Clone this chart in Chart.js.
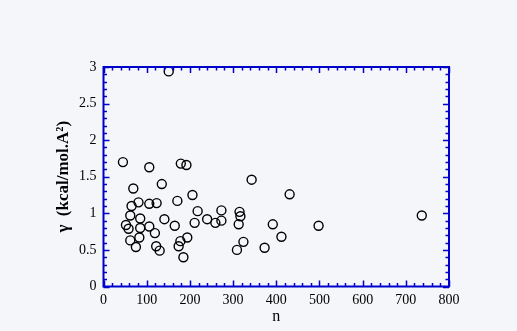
<!DOCTYPE html>
<html>
<head>
<meta charset="utf-8">
<script src="https://cdn.jsdelivr.net/npm/chart.js@4.4.1/dist/chart.umd.min.js"></script>
<style>
  html, body { margin: 0; padding: 0; background: #f5f6f9; }
  #wrap { width: 517px; height: 331px; }
</style>
</head>
<body>
<div id="wrap"><canvas id="gammaChart" width="517" height="331"></canvas></div>
<script>
// n (chain length) vs gamma (kcal/mol.A^2)
var nValues = [45, 106, 179, 192, 343, 69, 135, 206, 65, 81,
               106, 123, 171, 218, 273, 315, 317, 62, 85, 141,
               240, 273, 259, 211, 313, 392, 52, 58, 85, 106,
               165, 119, 62, 83, 75, 122, 130, 178, 174, 194,
               185, 309, 324, 373, 151, 431, 412, 498, 737];
var gammaValues = [1.70, 1.63, 1.68, 1.66, 1.46, 1.34, 1.40, 1.25, 1.10, 1.15,
                   1.13, 1.14, 1.17, 1.03, 1.04, 1.02, 0.96, 0.97, 0.93, 0.92,
                   0.92, 0.90, 0.87, 0.87, 0.85, 0.85, 0.84, 0.79, 0.80, 0.82,
                   0.83, 0.73, 0.63, 0.67, 0.54, 0.55, 0.49, 0.62, 0.55, 0.67,
                   0.40, 0.50, 0.61, 0.53, 2.94, 1.26, 0.68, 0.83, 0.97];

var xMin = 0, xMax = 800, xMajor = 100, xMinor = 20;
var yMin = 0, yMax = 3, yMajor = 0.5, yMinor = 0.1;

var axisBlue = '#0000cc';

var points = [];
for (var i = 0; i < nValues.length; i++) {
    points.push({x: nValues[i], y: gammaValues[i]});
}

// box frame + inward ticks on all four sides
var frameTicks = {
    id: 'frameTicks',
    afterDraw: function (chart) {
        var ctx = chart.ctx;
        var a = chart.chartArea;
        var xs = chart.scales.x, ys = chart.scales.y;
        ctx.save();
        ctx.strokeStyle = axisBlue;
        ctx.lineWidth = 1.5;
        var v, p, len;
        for (v = xMin; v <= xMax + 0.001; v += xMinor) {
            p = Math.round(xs.getPixelForValue(v)) + 0.5;
            len = (Math.abs(v % xMajor) < 0.001) ? 6 : 3.5;
            ctx.beginPath();
            ctx.moveTo(p, a.bottom); ctx.lineTo(p, a.bottom - len);
            ctx.moveTo(p, a.top); ctx.lineTo(p, a.top + len);
            ctx.stroke();
        }
        for (var k = 0; k <= Math.round((yMax - yMin) / yMinor); k++) {
            v = yMin + k * yMinor;
            p = Math.round(ys.getPixelForValue(v)) + 0.5;
            len = (k % 5 === 0) ? 6 : 3.5;
            ctx.beginPath();
            ctx.moveTo(a.left, p); ctx.lineTo(a.left + len, p);
            ctx.moveTo(a.right, p); ctx.lineTo(a.right - len, p);
            ctx.stroke();
        }
        ctx.lineWidth = 2;
        ctx.strokeRect(a.left, a.top, a.right - a.left, a.bottom - a.top);
        ctx.restore();
    }
};

var ctx = document.getElementById('gammaChart');
var gammaChart = new Chart(ctx, {
    type: 'scatter',
    data: {
        datasets: [{
            data: points,
            pointRadius: 4.5,
            pointBorderWidth: 1.4,
            pointBorderColor: '#000000',
            pointBackgroundColor: 'rgba(0,0,0,0)',
            pointHoverRadius: 4.5
        }]
    },
    options: {
        responsive: false,
        animation: false,
        layout: {
            padding: {top: 67, right: 68, left: 0, bottom: 0}
        },
        plugins: {
            legend: {display: false},
            tooltip: {enabled: false}
        },
        scales: {
            x: {
                type: 'linear',
                min: xMin,
                max: xMax,
                grid: {display: false, drawTicks: false},
                border: {display: false},
                ticks: {
                    stepSize: xMajor,
                    padding: 5,
                    color: '#000000',
                    maxRotation: 0,
                    font: {family: 'Liberation Serif', size: 14}
                },
                title: {
                    display: true,
                    text: 'n',
                    color: '#000000',
                    padding: {top: 0, bottom: 5},
                    font: {family: 'Liberation Serif', size: 16}
                },
                afterFit: function (scale) { scale.height = 44.5; }
            },
            y: {
                type: 'linear',
                min: yMin,
                max: yMax,
                grid: {display: false, drawTicks: false},
                border: {display: false},
                ticks: {
                    stepSize: yMajor,
                    padding: 7,
                    color: '#000000',
                    font: {family: 'Liberation Serif', size: 14},
                    callback: function (value) { return String(Math.round(value * 10) / 10); }
                },
                title: {
                    display: true,
                    text: 'γ  (kcal/mol.A²)',
                    color: '#000000',
                    padding: {top: 53, bottom: 0},
                    font: {family: 'Liberation Serif', size: 17, weight: 'bold'}
                },
                afterFit: function (scale) { scale.width = 103.5; }
            }
        }
    },
    plugins: [frameTicks]
});
</script>
</body>
</html>
